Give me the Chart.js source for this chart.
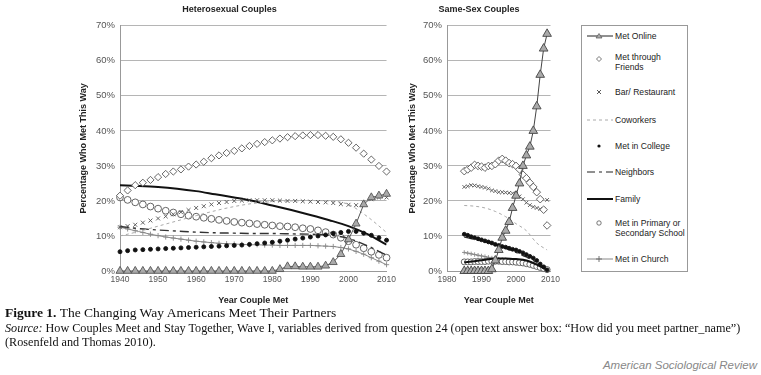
<!DOCTYPE html>
<html>
<head>
<meta charset="utf-8">
<script src="https://cdn.jsdelivr.net/npm/chart.js@4.4.1/dist/chart.umd.min.js"></script>
<style>
  body { margin: 0; background: #fff; width: 761px; height: 375px; position: relative; overflow: hidden; font-family: "Liberation Sans", Arial, sans-serif; }
  #hetero { position: absolute; left: 0; top: 0; }
  #samesex { position: absolute; left: 398px; top: 0; }
  #legend { position: absolute; left: 581px; top: 25px; width: 105px; height: 245px; border: 1px solid #999; }
  .item { position: absolute; left: 0; width: 105px; font-size: 8.6px; color: #222; line-height: 10px; }
  .item svg { position: absolute; left: 4px; }
  .item span { position: absolute; left: 33px; white-space: nowrap; }
  .cap { position: absolute; left: 5px; font-family: "Liberation Serif", "Times New Roman", serif; font-size: 12.2px; color: #111; white-space: nowrap; }
  #asr { position: absolute; right: 4px; top: 359px; font-style: italic; font-size: 11.5px; color: #888; }
</style>
</head>
<body>
<canvas id="hetero" width="400" height="312"></canvas>
<canvas id="samesex" width="166" height="312"></canvas>

<div id="legend">
  <div class="item" style="top:5px"><svg width="28" height="10"><line x1="1" y1="5" x2="27" y2="5" stroke="#222" stroke-width="1"/><polygon points="13,2.5 16,7 10,7" fill="#aaa" stroke="#555" stroke-width="0.7"/></svg><span>Met Online</span></div>
  <div class="item" style="top:28px"><svg width="28" height="10"><polygon points="13,2.5 15.5,5 13,7.5 10.5,5" fill="#fff" stroke="#555" stroke-width="0.8"/></svg><span style="top:-2px">Met through<br>Friends</span></div>
  <div class="item" style="top:61px"><svg width="28" height="10"><path d="M11,3 L15,7 M15,3 L11,7" stroke="#444" stroke-width="0.9"/></svg><span>Bar/ Restaurant</span></div>
  <div class="item" style="top:89px"><svg width="28" height="10"><line x1="1" y1="5" x2="27" y2="5" stroke="#aaa" stroke-width="1" stroke-dasharray="3,3"/></svg><span>Coworkers</span></div>
  <div class="item" style="top:115px"><svg width="28" height="10"><circle cx="13" cy="5" r="1.6" fill="#111"/></svg><span>Met in College</span></div>
  <div class="item" style="top:141px"><svg width="28" height="10"><line x1="1" y1="5" x2="27" y2="5" stroke="#222" stroke-width="1.2" stroke-dasharray="8,4,3,4"/></svg><span>Neighbors</span></div>
  <div class="item" style="top:168px"><svg width="28" height="10"><line x1="1" y1="5" x2="27" y2="5" stroke="#111" stroke-width="2"/></svg><span>Family</span></div>
  <div class="item" style="top:192px"><svg width="28" height="10"><circle cx="13" cy="5" r="2.2" fill="#fff" stroke="#555" stroke-width="0.8"/></svg><span>Met in Primary or<br>Secondary School</span></div>
  <div class="item" style="top:228px"><svg width="28" height="10"><line x1="1" y1="5" x2="27" y2="5" stroke="#888" stroke-width="1"/><path d="M13,2 L13,8 M10,5 L16,5" stroke="#666" stroke-width="0.9"/></svg><span>Met in Church</span></div>
</div>

<div class="cap" style="top:305px; font-size:13.5px"><b>Figure 1.</b> The Changing Way Americans Meet Their Partners</div>
<div class="cap" style="top:321px"><i>Source:</i> How Couples Meet and Stay Together, Wave I, variables derived from question 24 (open text answer box: “How did you meet partner_name”)</div>
<div class="cap" style="top:335px">(Rosenfeld and Thomas 2010).</div>
<div id="asr">American Sociological Review</div>

<script>
// Heterosexual couples: marker series every 2 years, plain lines every 5 years
const heteroYears = [1940, 1942, 1944, 1946, 1948, 1950, 1952, 1954, 1956, 1958, 1960, 1962, 1964, 1966, 1968, 1970, 1972, 1974,
                     1976, 1978, 1980, 1982, 1984, 1986, 1988, 1990, 1992, 1994, 1996, 1998, 2000, 2002, 2004, 2006, 2008, 2010];
const heteroLineYears = [1940, 1945, 1950, 1955, 1960, 1965, 1970, 1975, 1980, 1985, 1990, 1995, 2000, 2005, 2010];

const heteroOnline = [0, 0, 0, 0, 0, 0, 0, 0, 0, 0, 0, 0, 0, 0, 0, 0, 0, 0, 0, 0, 0,
                      0.5, 1.3, 1.3, 1.2, 1.2, 1.2, 1.5, 2.5, 4.8, 9, 13.5, 19, 21, 21.5, 22];
const heteroFriends = [21.5, 23, 24.5, 25.2, 26, 26.8, 27.7, 28.4, 29, 29.8, 30.4, 31.2, 32.2, 33, 33.7, 34.3, 35, 35.7,
                       36.3, 36.8, 37.3, 37.8, 38.2, 38.5, 38.7, 38.8, 38.8, 38.6, 38.3, 37.6, 36.6, 35.2, 33.5, 31.8, 30, 28.4];
const heteroBar = [12.5, 12.8, 13.2, 13.8, 14.4, 15, 15.6, 16.2, 16.8, 17.4, 18, 18.5, 19, 19.4, 19.7, 20, 20.1, 20.2,
                   20.2, 20.2, 20.2, 20.1, 20, 20, 19.9, 19.8, 19.7, 19.6, 19.4, 19.1, 18.9, 18.8, 19.5, 20.5, 21, 21];
const heteroCollege = [5.5, 5.8, 6, 6.1, 6.2, 6.3, 6.4, 6.5, 6.6, 6.7, 6.8, 6.9, 7, 7.1, 7.2, 7.3, 7.4, 7.6,
                       7.8, 8, 8.2, 8.5, 8.8, 9.1, 9.4, 9.7, 10, 10.3, 10.7, 11, 11.3, 11.3, 10.8, 10.2, 9.5, 8.8];
const heteroSchool = [21, 20.3, 19.6, 19, 18.4, 17.8, 17.2, 16.7, 16.2, 15.8, 15.5, 15.2, 14.9, 14.6, 14.3, 14, 13.8, 13.6,
                      13.4, 13.2, 13, 12.8, 12.7, 12.5, 12.2, 12, 11.6, 11.1, 10.4, 9.5, 8.5, 7.5, 6.5, 5.5, 4.6, 3.8];
const heteroChurch = [12.5, 12, 11.5, 11, 10.5, 10.1, 9.7, 9.4, 9.1, 8.8, 8.5, 8.3, 8.1, 7.9, 7.8, 7.7, 7.6, 7.5,
                      7.5, 7.4, 7.4, 7.3, 7.3, 7.3, 7.3, 7.3, 7.2, 7.1, 7, 6.7, 6.3, 5.6, 4.8, 3.8, 2.8, 1.8];
const heteroFamily = [24.5, 24.3, 24, 23.5, 22.8, 21.9, 21, 20, 18.7, 17.4, 16, 14.5, 12.8, 10.5, 7.5];
const heteroCoworkers = [10, 11.3, 12.8, 14.3, 15.8, 17.2, 18.4, 19.3, 19.8, 20, 20.1, 20, 19, 15.5, 11];
const heteroNeighbors = [12.7, 12.1, 11.7, 11.4, 11.1, 10.9, 10.8, 10.7, 10.7, 10.6, 10.5, 10.2, 9.3, 7.2, 4.5];

// Same-sex couples: marker series every year, plain lines every 3 years
const sameYears = [1985, 1986, 1987, 1988, 1989, 1990, 1991, 1992, 1993, 1994, 1995, 1996, 1997,
                   1998, 1999, 2000, 2001, 2002, 2003, 2004, 2005, 2006, 2007, 2008, 2009];
const sameLineYears = [1985, 1988, 1991, 1994, 1997, 2000, 2003, 2006, 2009];

const sameOnline = [0, 0, 0, 0, 0, 0, 0, 0, 0.5, 3, 6, 9.5, 11.5, 14, 18, 21.5, 25, 30, 33, 35.5, 40, 47, 56, 63.5, 67.7];
const sameFriends = [28.5, 29, 29.5, 30.3, 30, 29.8, 29.5, 30, 30, 30.5, 31.5, 32, 31.5, 30.8, 30.5,
                     30, 29, 27.5, 26.5, 25.2, 24, 22.5, 20.5, 17.5, 13];
const sameBar = [24, 24.2, 24.5, 24.4, 24.2, 24, 23.8, 23.5, 23, 22.8, 22.5, 22.5, 22.4, 22.3, 22.2,
                 22, 21.3, 20.5, 19.5, 18.8, 18.3, 18, 17.7, 17.6, 20.3];
const sameCollege = [10.5, 10.2, 9.8, 9.5, 9.2, 8.9, 8.6, 8.3, 8, 7.6, 7.3, 7, 6.8, 6.5, 6.2,
                     6, 5.6, 5.2, 4.7, 4.2, 3.7, 3, 2, 1.2, 0.3];
const sameSchool = [2.6, 2.6, 2.6, 2.7, 2.7, 2.7, 2.7, 2.8, 2.8, 2.8, 2.8, 2.7, 2.7, 2.6, 2.6,
                    2.5, 2.4, 2.3, 2.1, 1.9, 1.6, 1.3, 1, 0.7, 0.4];
const sameChurch = [5.3, 5.1, 4.9, 4.7, 4.5, 4.3, 4.1, 3.9, 3.7, 3.5, 3.4, 3.3, 3.2, 3.1, 3,
                    2.9, 2.8, 2.6, 2.4, 2.2, 2, 1.6, 1.2, 0.8, 0.4];
const sameFamily = [2.5, 2.8, 3.2, 3.6, 3.6, 3.4, 3, 1.8, 0.3];
const sameCoworkers = [18.7, 18.5, 18, 17, 15.5, 13.5, 11.5, 8, 6];
const sameNeighbors = [9.7, 9, 8.3, 7.5, 6.5, 5.3, 4, 2.5, 0.5];

const yTicks = [0, 10, 20, 30, 40, 50, 60, 70];

Chart.defaults.font.family = '"Liberation Sans", Arial, sans-serif';
Chart.defaults.color = '#555';

function pts(xs, ys) {
    return xs.map((x, i) => ({ x: x, y: ys[i] }));
}

function markerSet(label, xs, ys, style, radius, fill, stroke, showLine) {
    return {
        label: label,
        data: pts(xs, ys),
        showLine: showLine,
        borderColor: stroke,
        borderWidth: 1,
        pointStyle: style,
        pointRadius: radius,
        pointBackgroundColor: fill,
        pointBorderColor: stroke,
        pointBorderWidth: 0.9,
        clip: false
    };
}

function lineSet(label, xs, ys, color, width, dash) {
    return {
        label: label,
        data: pts(xs, ys),
        borderColor: color,
        borderWidth: width,
        borderDash: dash,
        pointRadius: 0,
        cubicInterpolationMode: 'monotone',
        fill: false
    };
}

function options(title, xMin, xMax, padLeft, yWidth, padRight, titlePad) {
    return {
        responsive: false,
        animation: false,
        devicePixelRatio: 1,
        layout: { padding: { left: padLeft, right: padRight, top: 0, bottom: 0 } },
        plugins: {
            legend: { display: false },
            tooltip: { enabled: false },
            title: {
                display: true,
                text: title,
                color: '#222',
                font: { size: 9, weight: 'bold' },
                padding: { top: 4, bottom: 11 }
            }
        },
        scales: {
            x: {
                type: 'linear',
                min: xMin,
                max: xMax,
                afterFit: (s) => { s.height = 41; },
                ticks: { stepSize: 10, font: { size: 8.5 }, color: '#555', padding: 4, callback: (v) => String(v) },
                grid: { display: false, drawTicks: false },
                border: { color: '#999' },
                title: { display: true, text: 'Year Couple Met', color: '#222', font: { size: 9, weight: 'bold' }, padding: { bottom: 6 } }
            },
            y: {
                min: 0,
                max: 70,
                afterFit: (s) => { s.width = yWidth; },
                afterBuildTicks: (s) => { s.ticks = yTicks.map(v => ({ value: v })); },
                ticks: { font: { size: 9.5 }, color: '#555', padding: 5, callback: (v) => v + '%' },
                grid: { color: '#b5b5b5', drawTicks: false },
                border: { color: '#999' },
                title: { display: true, text: 'Percentage Who Met This Way', color: '#222', font: { size: 9, weight: 'bold' }, padding: { top: titlePad } }
            }
        }
    };
}

const heteroChart = new Chart(document.getElementById('hetero').getContext('2d'), {
    type: 'line',
    data: {
        datasets: [
            markerSet('Met Online', heteroYears, heteroOnline, 'triangle', 4.6, '#aaa', '#555', true),
            markerSet('Met through Friends', heteroYears, heteroFriends, 'rectRot', 3.6, '#fff', '#555', false),
            markerSet('Bar/ Restaurant', heteroYears, heteroBar, 'crossRot', 2.8, '#555', '#555', false),
            lineSet('Coworkers', heteroLineYears, heteroCoworkers, '#aaa', 1, [3, 3]),
            markerSet('Met in College', heteroYears, heteroCollege, 'circle', 2, '#111', '#111', false),
            lineSet('Neighbors', heteroLineYears, heteroNeighbors, '#333', 1.4, [9, 4, 3, 4]),
            lineSet('Family', heteroLineYears, heteroFamily, '#111', 2, []),
            markerSet('Met in Primary or Secondary School', heteroYears, heteroSchool, 'circle', 3.4, '#fff', '#555', false),
            markerSet('Met in Church', heteroYears, heteroChurch, 'cross', 2.6, '#777', '#888', true)
        ]
    },
    options: options('Heterosexual Couples', 1940, 2010, 70, 50, 11, 8)
});

const sameChart = new Chart(document.getElementById('samesex').getContext('2d'), {
    type: 'line',
    data: {
        datasets: [
            markerSet('Met Online', sameYears, sameOnline, 'triangle', 5, '#aaa', '#444', true),
            markerSet('Met through Friends', sameYears, sameFriends, 'rectRot', 3.8, '#fff', '#555', false),
            markerSet('Bar/ Restaurant', sameYears, sameBar, 'crossRot', 2.6, '#555', '#555', false),
            lineSet('Coworkers', sameLineYears, sameCoworkers, '#aaa', 1, [3, 3]),
            markerSet('Met in College', sameYears, sameCollege, 'circle', 1.9, '#111', '#111', false),
            lineSet('Neighbors', sameLineYears, sameNeighbors, '#333', 1.4, [9, 4, 3, 4]),
            lineSet('Family', sameLineYears, sameFamily, '#111', 2, []),
            markerSet('Met in Primary or Secondary School', sameYears, sameSchool, 'circle', 3, '#fff', '#555', false),
            markerSet('Met in Church', sameYears, sameChurch, 'cross', 2.2, '#777', '#888', true)
        ]
    },
    options: options('Same-Sex Couples', 1980, 2010, 5, 44, 9, 4)
});
</script>
</body>
</html>
